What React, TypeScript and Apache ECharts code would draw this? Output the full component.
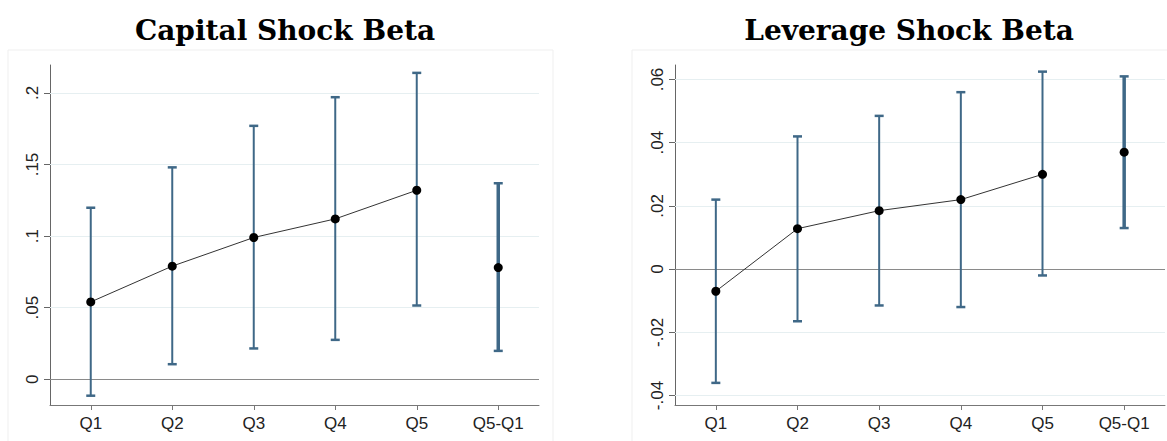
import React, { useEffect, useRef } from "react";
import * as echarts from "echarts";

const categories = ["Q1", "Q2", "Q3", "Q4", "Q5", "Q5-Q1"];

// Capital Shock Beta
const capPoint = [0.054, 0.079, 0.099, 0.112, 0.132, 0.078];
const capLow = [-0.0115, 0.0105, 0.0215, 0.0275, 0.0515, 0.0198];
const capHigh = [0.1198, 0.148, 0.177, 0.197, 0.214, 0.1369];
const capTicks = [0, 0.05, 0.1, 0.15, 0.2];

// Leverage Shock Beta
const levPoint = [-0.007, 0.0128, 0.0185, 0.022, 0.030, 0.037];
const levLow = [-0.036, -0.0165, -0.0115, -0.012, -0.002, 0.013];
const levHigh = [0.022, 0.042, 0.0485, 0.056, 0.0625, 0.061];
const levTicks = [-0.04, -0.02, 0, 0.02, 0.04, 0.06];

const titles = ["Capital Shock Beta", "Leverage Shock Beta"];

const BAR = "#3f6887";
const GRID_LINE = "#e6eff1";

function fmt(v: number) {
  if (v === 0) return "0";
  return String(v).replace("0.", ".");
}

function errorBars(idx: number, low: number[], high: number[], ticks: number[]) {
  return {
    type: "custom",
    xAxisIndex: idx,
    yAxisIndex: idx,
    z: 3,
    silent: true,
    data: low.map((l, i) => [i, l, high[i]]),
    renderItem: (params: any, api: any) => {
      const x = api.value(0);
      const lo = api.coord([x, api.value(1)]);
      const hi = api.coord([x, api.value(2)]);
      const w = params.dataIndex === 5 ? 3.5 : 2;
      const cap = 4.5;
      return {
        type: "group",
        children: [
          { type: "line", shape: { x1: lo[0], y1: lo[1], x2: hi[0], y2: hi[1] }, style: { stroke: BAR, lineWidth: w } },
          { type: "line", shape: { x1: lo[0] - cap, y1: lo[1], x2: lo[0] + cap, y2: lo[1] }, style: { stroke: BAR, lineWidth: 2.5 } },
          { type: "line", shape: { x1: hi[0] - cap, y1: hi[1], x2: hi[0] + cap, y2: hi[1] }, style: { stroke: BAR, lineWidth: 2.5 } },
        ],
      };
    },
    markLine: {
      silent: true,
      z: 1,
      symbol: ["none", "none"],
      label: { show: false },
      animation: false,
      data: ticks.map((t) => ({
        yAxis: t,
        lineStyle: t === 0 ? { color: "#8a8a8a", width: 1, type: "solid" } : { color: GRID_LINE, width: 1, type: "solid" },
      })),
    },
  };
}

function lineSeries(idx: number, pts: number[]) {
  return {
    type: "line",
    xAxisIndex: idx,
    yAxisIndex: idx,
    z: 4,
    silent: true,
    data: pts.slice(0, 5),
    symbol: "none",
    lineStyle: { color: "#333", width: 1 },
  };
}

function dotSeries(idx: number, pts: number[]) {
  return {
    type: "scatter",
    xAxisIndex: idx,
    yAxisIndex: idx,
    z: 5,
    silent: true,
    data: pts,
    symbol: "circle",
    symbolSize: 9,
    itemStyle: { color: "#000", opacity: 1 },
  };
}

function xAxis(idx: number) {
  return {
    type: "category",
    gridIndex: idx,
    data: categories,
    boundaryGap: true,
    axisLine: { show: true, onZero: false, lineStyle: { color: "#777", width: 1 } },
    axisTick: { show: true, alignWithLabel: true, length: 5, lineStyle: { color: "#777" } },
    axisLabel: { color: "#222", fontFamily: "Liberation Sans", fontSize: 17, margin: 10 },
    splitLine: { show: false },
  };
}

function yAxis(idx: number, min: number, max: number, ticks: number[]) {
  return {
    type: "value",
    gridIndex: idx,
    min,
    max,
    axisLine: { show: true, lineStyle: { color: "#666", width: 1 } },
    axisTick: { show: true, length: 6, customValues: ticks, lineStyle: { color: "#666" } },
    axisLabel: {
      customValues: ticks,
      rotate: 90,
      color: "#222",
      fontFamily: "Liberation Sans",
      fontSize: 17,
      margin: 9,
      formatter: (v: number) => fmt(v),
    },
    splitLine: { show: false },
  };
}

export default function App() {
  const ref = useRef<HTMLDivElement>(null);
  useEffect(() => {
    if (!ref.current) return;
    const chart = echarts.init(ref.current, null, { renderer: "svg" });
    const titleStyle = { fontFamily: "DejaVu Serif", fontWeight: "bold", fontSize: 28, color: "#000" };
    chart.setOption({
      animation: false,
      backgroundColor: "#fff",
      title: [
        { text: titles[0], left: 280, top: 11, textAlign: "center", textStyle: titleStyle },
        { text: titles[1], left: 904, top: 11, textAlign: "center", textStyle: titleStyle },
      ],
      graphic: [
        { type: "rect", shape: { x: 8, y: 50, width: 545, height: 400 }, style: { fill: "none", stroke: "#efefef", lineWidth: 1 }, silent: true, z: -1 },
        { type: "rect", shape: { x: 632, y: 50, width: 545, height: 400 }, style: { fill: "none", stroke: "#efefef", lineWidth: 1 }, silent: true, z: -1 },
      ],
      grid: [
        { left: 50, top: 65, width: 489, height: 340, containLabel: false },
        { left: 675, top: 65, width: 490, height: 340, containLabel: false },
      ],
      xAxis: [xAxis(0), xAxis(1)],
      yAxis: [yAxis(0, -0.018, 0.2195, capTicks), yAxis(1, -0.043, 0.0646, levTicks)],
      series: [
        errorBars(0, capLow, capHigh, capTicks),
        lineSeries(0, capPoint),
        dotSeries(0, capPoint),
        errorBars(1, levLow, levHigh, levTicks),
        lineSeries(1, levPoint),
        dotSeries(1, levPoint),
      ],
    });
    return () => chart.dispose();
  }, []);
  return (
    <div
      ref={ref}
      style={{ position: "fixed", left: 0, top: 0, width: 1167, height: 441, background: "#fff" }}
    />
  );
}
